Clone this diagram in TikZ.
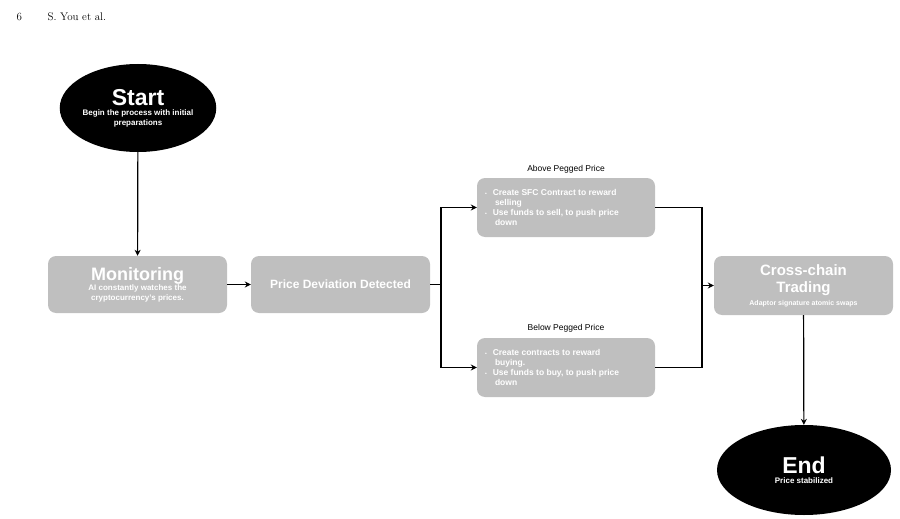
\documentclass[tikz,border=0pt]{standalone}
\usepackage{fontspec}
\setsansfont{Liberation Sans}
\usetikzlibrary{shapes.geometric,arrows.meta}
\definecolor{boxg}{HTML}{BFBFBF}
\begin{document}
\begin{tikzpicture}[x=1pt,y=-1pt,
  box/.style={draw=none,fill=boxg,rounded corners=8pt,text=white,align=center,inner sep=0pt},
  oval/.style={ellipse,fill=black,text=white,align=center,inner sep=0pt},
  arr/.style={-{Stealth[length=6pt,width=6pt]},line width=1.2pt},
  ln/.style={line width=1.2pt},
  lab/.style={font=\sffamily\fontsize{8.5}{10}\selectfont}]
\useasboundingbox (0,0) rectangle (900,519);
\node[anchor=west,font=\fontsize{11}{12}\selectfont] (pg) at (13,17) {6};
\node[anchor=west,font=\fontsize{11}{12}\selectfont] (au) at (44,17) {S. You et al.};
\node[oval,minimum width=130pt,minimum height=88pt,font=\sffamily\bfseries\fontsize{8}{10}\selectfont] (start) at (138,108) {{\fontsize{23}{24}\selectfont Start}\\Begin the process with initial\\preparations};
\node[box,minimum width=179pt,minimum height=57pt,font=\sffamily\bfseries\fontsize{8}{10}\selectfont] (mon) at (137.5,284.5) {{\fontsize{18}{18}\selectfont Monitoring}\\AI constantly watches the\\cryptocurrency's prices.};
\node[box,minimum width=179pt,minimum height=57pt,font=\sffamily\bfseries\fontsize{12}{14}\selectfont] (pd) at (340.5,284.5) {Price Deviation Detected};
\node[box,minimum width=178pt,minimum height=59pt,align=left,font=\sffamily\bfseries\fontsize{8.5}{10}\selectfont] (ab) at (566,207.5) {\begin{minipage}{166pt}\raggedright
\hspace*{2pt}{\tiny\textbullet}\hspace{6pt}Create SFC Contract to reward\\\hspace*{12pt}selling\\
\hspace*{2pt}{\tiny\textbullet}\hspace{6pt}Use funds to sell, to push price\\\hspace*{12pt}down\end{minipage}};
\node[box,minimum width=178pt,minimum height=59pt,align=left,font=\sffamily\bfseries\fontsize{8.5}{10}\selectfont] (be) at (566,367.5) {\begin{minipage}{166pt}\raggedright
\hspace*{2pt}{\tiny\textbullet}\hspace{6pt}Create contracts to reward\\\hspace*{12pt}buying.\\
\hspace*{2pt}{\tiny\textbullet}\hspace{6pt}Use funds to buy, to push price\\\hspace*{12pt}down\end{minipage}};
\node[lab] (abl) at (566,169) {Above Pegged Price};
\node[lab] (bel) at (566,328) {Below Pegged Price};
\node[box,minimum width=179pt,minimum height=59pt,font=\sffamily\bfseries\fontsize{15}{17}\selectfont] (cc) at (803.5,285.5) {Cross-chain\\Trading\\[-4pt]{\fontsize{7}{8}\selectfont Adaptor signature atomic swaps}};
\node[oval,minimum width=174pt,minimum height=90pt,font=\sffamily\bfseries\fontsize{8}{10}\selectfont] (end) at (804,470) {{\fontsize{23}{24}\selectfont End}\\Price stabilized};
\coordinate (sp) at (441,284.5);
\coordinate (jn) at (702,285.5);
\draw[arr] (start) -- (mon);
\draw[arr] (mon) -- (pd);
\draw[ln] (pd) -- (sp);
\draw[arr] (sp) |- (ab.west);
\draw[arr] (sp) |- (be.west);
\draw[ln] (ab.east) -| (jn);
\draw[ln] (be.east) -| (jn);
\draw[arr] (jn) -- (cc.west);
\draw[arr] (cc) -- (end);
\end{tikzpicture}
\end{document}
